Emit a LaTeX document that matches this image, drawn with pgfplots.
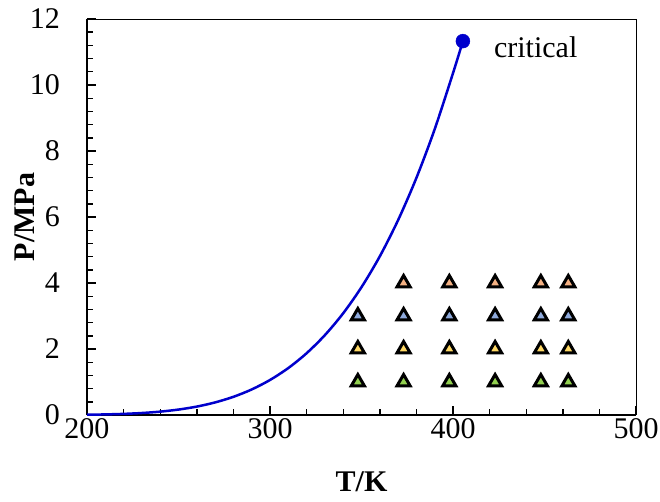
\documentclass[border=0pt]{standalone}
\usepackage{pgfplots}
\pgfplotsset{compat=1.18}
\usepackage{fontspec}
\setmainfont{Liberation Serif}

\definecolor{curveblue}{HTML}{0000CC}
\definecolor{cgreen}{HTML}{92D050}
\definecolor{cyellow}{HTML}{FFD966}
\definecolor{cblue}{HTML}{8FAADC}
\definecolor{corange}{HTML}{F4B183}

\begin{document}
\begin{tikzpicture}
\begin{axis}[
    scale only axis,
    width=549pt, height=396pt,
    xmin=200, xmax=500, ymin=0, ymax=12,
    axis lines=left,
    axis line style={-, line width=1.6pt},
    xtick={200,300,400,500},
    ytick={0,2,4,6,8,10,12},
    minor x tick num=4,
    minor y tick num=4,
    tick align=inside,
    major tick length=9pt,
    minor tick length=6pt,
    tick style={black, line width=1.4pt},
    every tick label/.append style={font=\fontsize{30}{34}\selectfont},
    /pgf/number format/assume math mode=true,
    xticklabel style={inner sep=0pt, yshift=-3pt},
    yticklabel style={inner sep=0pt, xshift=-27pt},
    xlabel={\textbf{T/K}},
    ylabel={\textbf{P/MPa}},
    label style={font=\fontsize{30}{34}\selectfont},
    xlabel style={at={(axis description cs:0.5,0)}, anchor=center, yshift=-67pt, inner sep=0pt},
    ylabel style={at={(axis description cs:0,0.5)}, anchor=center, yshift=62pt, inner sep=0pt},
    clip=false,
]
% thin top and right frame
\draw[black, line width=0.9pt] (rel axis cs:0,1) -- (rel axis cs:1,1) -- (rel axis cs:1,0);
% saturation curve
\addplot[curveblue, line width=2.5pt, smooth, no marks] coordinates {
(200,0.0087) (210,0.0177) (220,0.0340) (230,0.0606) (240,0.1022)
(250,0.1649) (260,0.2552) (270,0.3812) (280,0.5509) (290,0.7741)
(300,1.0612) (310,1.4229) (320,1.8720) (330,2.4210) (340,3.0830)
(350,3.8740) (360,4.8080) (370,5.9060) (380,7.1850) (390,8.6620)
(400,10.3590) (405.4,11.33)
};
\addplot[only marks, mark=*, mark size=7pt, curveblue] coordinates {(405.4,11.33)}
  node[anchor=west, xshift=31pt, yshift=-6pt, inner sep=0pt, font=\fontsize{30}{34}\selectfont, black] {critical};
% experimental points
\addplot[only marks, mark=triangle*, mark size=7.5pt, mark options={fill=cgreen, draw=black, line width=3pt}]
  coordinates {(348,1) (373,1) (398,1) (423,1) (448,1) (463,1)};
\addplot[only marks, mark=triangle*, mark size=7.5pt, mark options={fill=cyellow, draw=black, line width=3pt}]
  coordinates {(348,2) (373,2) (398,2) (423,2) (448,2) (463,2)};
\addplot[only marks, mark=triangle*, mark size=7.5pt, mark options={fill=cblue, draw=black, line width=3pt}]
  coordinates {(348,3) (373,3) (398,3) (423,3) (448,3) (463,3)};
\addplot[only marks, mark=triangle*, mark size=7.5pt, mark options={fill=corange, draw=black, line width=3pt}]
  coordinates {(373,4) (398,4) (423,4) (448,4) (463,4)};
\end{axis}
% page margins as in the reference
\path ([xshift=-87pt,yshift=-86pt]current axis.south west)
  rectangle ([xshift=24pt,yshift=19pt]current axis.north east);
\end{tikzpicture}
\end{document}
